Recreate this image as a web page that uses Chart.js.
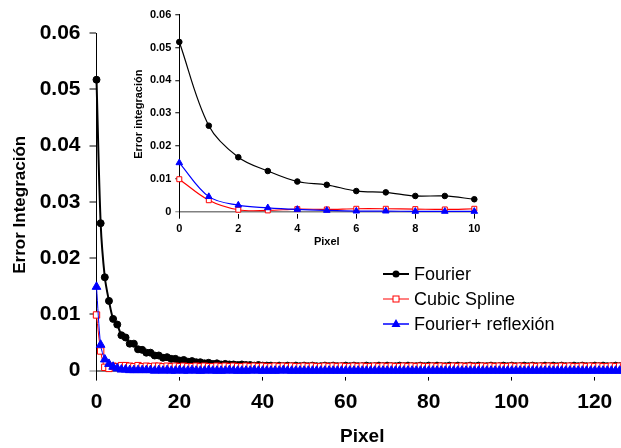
<!DOCTYPE html>
<html>
<head>
<meta charset="utf-8">
<script src="https://cdn.jsdelivr.net/npm/chart.js@4.4.1/dist/chart.umd.min.js"></script>
<style>
html,body{margin:0;padding:0;background:#fff;overflow:hidden;}
#wrap{position:relative;width:621px;height:448px;overflow:hidden;}
#main{position:absolute;left:0;top:0;}
#inset{position:absolute;left:120px;top:0;}
</style>
</head>
<body>
<div id="wrap">
<canvas id="main" width="634" height="448" style="width:634px;height:448px"></canvas>
<canvas id="inset" width="370" height="250" style="width:370px;height:250px"></canvas>
</div>
<script>
const FONT = '"Liberation Sans", Arial, sans-serif';

// series names (legend order)
const seriesNames = ["Fourier", "Cubic Spline", "Fourier+ reflexión"];

// error per pixel (pixel 0..127)
const fourier = [
0.0517,0.0262,0.0166,0.0124,0.0092,0.0082,0.0063,0.0059,0.0048,0.0048,
0.0038,0.0037,0.0032,0.0032,0.0027,0.0027,0.0023,0.0024,0.0021,0.0021,
0.0018,0.0019,0.0016,0.0017,0.0015,0.0015,0.0013,0.0014,0.0012,0.0013,
0.0011,0.0012,0.0011,0.0011,0.0010,0.0011,0.0010,0.0010,0.0009,0.0010,
0.0009,0.0009,0.0009,0.0008,0.0009,0.0008,0.0009,0.0008,0.0009,0.0008,
0.0009,0.0008,0.0009,0.0008,0.0008,0.0009,0.0008,0.0009,0.0008,0.0008,
0.0009,0.0008,0.0009,0.0008,0.0008,0.0009,0.0008,0.0008,0.0009,0.0008,
0.0009,0.0008,0.0008,0.0009,0.0008,0.0009,0.0008,0.0008,0.0009,0.0008,
0.0009,0.0008,0.0009,0.0008,0.0008,0.0009,0.0008,0.0009,0.0008,0.0008,
0.0009,0.0008,0.0009,0.0008,0.0008,0.0009,0.0008,0.0008,0.0009,0.0008,
0.0009,0.0008,0.0008,0.0009,0.0008,0.0009,0.0008,0.0008,0.0009,0.0008,
0.0009,0.0008,0.0009,0.0008,0.0008,0.0009,0.0008,0.0009,0.0008,0.0008,
0.0009,0.0008,0.0009,0.0008,0.0008,0.0009,0.0008,0.0009
];
const cubic = [
0.0099,0.0035,0.0006,0.0004,0.0008,0.0007,0.0009,0.0009,0.0008,0.0007,
0.0009,0.0007,0.0008,0.0007,0.0008,0.0008,0.0007,0.0008,0.0007,0.0008,
0.0007,0.0008,0.0007,0.0007,0.0008,0.0007,0.0008,0.0007,0.0007,0.0008,
0.0007,0.0008,0.0007,0.0008,0.0007,0.0007,0.0008,0.0007,0.0008,0.0007,
0.0008,0.0007,0.0007,0.0008,0.0007,0.0008,0.0007,0.0008,0.0007,0.0007,
0.0008,0.0007,0.0008,0.0007,0.0007,0.0008,0.0007,0.0008,0.0007,0.0008,
0.0007,0.0007,0.0008,0.0007,0.0008,0.0007,0.0007,0.0008,0.0007,0.0008,
0.0007,0.0008,0.0007,0.0007,0.0008,0.0007,0.0008,0.0007,0.0008,0.0007,
0.0007,0.0008,0.0007,0.0008,0.0007,0.0007,0.0008,0.0007,0.0008,0.0007,
0.0008,0.0007,0.0007,0.0008,0.0007,0.0008,0.0007,0.0008,0.0007,0.0007,
0.0008,0.0007,0.0008,0.0007,0.0007,0.0008,0.0007,0.0008,0.0007,0.0008,
0.0007,0.0007,0.0008,0.0007,0.0008,0.0007,0.0007,0.0008,0.0007,0.0008,
0.0007,0.0008,0.0007,0.0007,0.0008,0.0007,0.0008,0.0007
];
const reflexion = [
0.0149,0.0046,0.0020,0.0012,0.0007,0.0004,0.0002,0.0002,0.0001,0.0001,
0.0001,0.0001,0.0001,0.0001,0.0000,0.0001,0.0000,0.0001,0.0000,0.0000,
0.0001,0.0000,0.0000,0.0001,0.0000,0.0000,0.0000,0.0001,0.0000,0.0000,
0.0000,0.0000,0.0001,0.0000,0.0000,0.0000,0.0000,0.0000,0.0001,0.0000,
0.0000,0.0000,0.0000,0.0000,0.0000,0.0001,0.0000,0.0000,0.0000,0.0000,
0.0000,0.0000,0.0000,0.0000,0.0000,0.0000,0.0000,0.0000,0.0000,0.0000,
0.0000,0.0000,0.0000,0.0000,0.0000,0.0000,0.0000,0.0000,0.0000,0.0000,
0.0000,0.0000,0.0000,0.0000,0.0000,0.0000,0.0000,0.0000,0.0000,0.0000,
0.0000,0.0000,0.0000,0.0000,0.0000,0.0000,0.0000,0.0000,0.0000,0.0000,
0.0000,0.0000,0.0000,0.0000,0.0000,0.0000,0.0000,0.0000,0.0000,0.0000,
0.0000,0.0000,0.0000,0.0000,0.0000,0.0000,0.0000,0.0000,0.0000,0.0000,
0.0000,0.0000,0.0000,0.0000,0.0000,0.0000,0.0000,0.0000,0.0000,0.0000,
0.0000,0.0000,0.0000,0.0000,0.0000,0.0000,0.0000,0.0000
];

// tick values
const xTicksMain = [0, 20, 40, 60, 80, 100, 120];
const yTicksMain = [0, 0.01, 0.02, 0.03, 0.04, 0.05, 0.06];
const yLabelsMain = ["0", "0.01", "0.02", "0.03", "0.04", "0.05", "0.06"];
const xTicksInset = [0, 2, 4, 6, 8, 10];
const insetCount = 11; // inset shows pixels 0..10

function pts(arr, n){
    let out = [];
    for (let i = 0; i < n; i++) out.push({x: i, y: arr[i]});
    return out;
}

function zeroGray(c){
    return (c.tick && c.tick.value === 0) ? '#808080' : 'rgba(0,0,0,0)';
}

// legend drawn inside the main plot
const boxLegend = {
    id: 'boxLegend',
    afterDraw(chart){
        const ctx = chart.ctx;
        ctx.save();
        ctx.font = '18px ' + FONT;
        ctx.textBaseline = 'middle';
        const colors = ['#000000', '#ff0000', '#0000ff'];
        const widths = [2, 1, 1.5];
        for (let i = 0; i < seriesNames.length; i++) {
            let y = 274 + i * 25;
            let x1 = 383, x2 = 409, mx = 396;
            ctx.strokeStyle = colors[i];
            ctx.lineWidth = widths[i];
            ctx.beginPath();
            ctx.moveTo(x1, y);
            ctx.lineTo(x2, y);
            ctx.stroke();
            ctx.lineWidth = 1;
            if (i === 0) {
                ctx.fillStyle = '#000';
                ctx.beginPath();
                ctx.arc(mx, y, 3.5, 0, Math.PI * 2);
                ctx.fill();
            } else if (i === 1) {
                ctx.fillStyle = '#fff';
                ctx.fillRect(mx - 3, y - 3, 6, 6);
                ctx.strokeRect(mx - 3, y - 3, 6, 6);
            } else {
                ctx.fillStyle = '#0000ff';
                ctx.beginPath();
                ctx.moveTo(mx, y - 5);
                ctx.lineTo(mx + 4.5, y + 3);
                ctx.lineTo(mx - 4.5, y + 3);
                ctx.closePath();
                ctx.fill();
            }
            ctx.fillStyle = '#000';
            ctx.fillText(seriesNames[i], 414, y + 1);
        }
        ctx.restore();
    }
};

Chart.defaults.font.family = FONT;
Chart.defaults.color = '#000';

new Chart(document.getElementById('main'), {
    type: 'line',
    data: {
        datasets: [
            {
                label: seriesNames[0], data: pts(fourier, fourier.length),
                borderColor: '#000', borderWidth: 2, tension: 0.3,
                pointStyle: 'circle', pointRadius: 3.5,
                pointBackgroundColor: '#000', pointBorderColor: '#000', pointBorderWidth: 1,
                order: 3, clip: false
            },
            {
                label: seriesNames[1], data: pts(cubic, cubic.length),
                borderColor: '#ff0000', borderWidth: 1, tension: 0.3,
                pointStyle: 'rect', pointRadius: 4.5,
                pointBackgroundColor: '#fff', pointBorderColor: '#ff0000', pointBorderWidth: 1,
                order: 2, clip: false
            },
            {
                label: seriesNames[2], data: pts(reflexion, reflexion.length),
                borderColor: '#0000ff', borderWidth: 1, tension: 0.3,
                pointStyle: 'triangle', pointRadius: 5,
                pointBackgroundColor: '#0000ff', pointBorderColor: '#0000ff', pointBorderWidth: 1,
                order: 1, clip: false
            }
        ]
    },
    options: {
        responsive: false, animation: false, devicePixelRatio: 1,
        layout: {padding: {top: 33, right: 0, left: 0, bottom: 0}},
        plugins: {legend: {display: false}, tooltip: {enabled: false}},
        scales: {
            x: {
                type: 'linear', min: 0, max: 128,
                afterBuildTicks: s => { s.ticks = xTicksMain.map(v => ({value: v})); },
                afterFit: s => { s.height = 71.4; },
                border: {display: false},
                grid: {drawOnChartArea: false, tickLength: 4, color: '#000'},
                ticks: {font: {size: 21, weight: 'bold'}, padding: 9, maxRotation: 0, autoSkip: false},
                title: {display: true, text: 'Pixel', font: {size: 19, weight: 'bold'}, padding: {top: 0, bottom: 0}}
            },
            y: {
                min: -0.00105, max: 0.06,
                afterBuildTicks: s => { s.ticks = yTicksMain.map(v => ({value: v})); },
                afterFit: s => { s.width = 96.5; },
                border: {display: true, color: '#000', width: 1},
                grid: {
                    drawOnChartArea: true, tickLength: 7, color: zeroGray, lineWidth: 2,
                    tickColor: c => (c.tick && c.tick.value === 0) ? '#808080' : '#000',
                    tickWidth: 1
                },
                ticks: {font: {size: 21, weight: 'bold'}, padding: 9, callback: (v, i) => yLabelsMain[i]},
                title: {display: true, text: 'Error Integración', font: {size: 17, weight: 'bold'}, padding: {top: 10.5, bottom: 0}}
            }
        }
    },
    plugins: [boxLegend]
});

new Chart(document.getElementById('inset'), {
    type: 'line',
    data: {
        datasets: [
            {
                label: seriesNames[0], data: pts(fourier, insetCount),
                borderColor: '#000', borderWidth: 1.2, tension: 0.35,
                pointStyle: 'circle', pointRadius: 2.8,
                pointBackgroundColor: '#000', pointBorderColor: '#000', pointBorderWidth: 1,
                order: 3, clip: false
            },
            {
                label: seriesNames[1], data: pts(cubic, insetCount),
                borderColor: '#ff0000', borderWidth: 1.2, tension: 0.35,
                pointStyle: 'rect', pointRadius: 3.5,
                pointBackgroundColor: '#fff', pointBorderColor: '#ff0000', pointBorderWidth: 1,
                order: 2, clip: false
            },
            {
                label: seriesNames[2], data: pts(reflexion, insetCount),
                borderColor: '#0000ff', borderWidth: 1.2, tension: 0.35,
                pointStyle: 'triangle', pointRadius: 3.8,
                pointBackgroundColor: '#0000ff', pointBorderColor: '#0000ff', pointBorderWidth: 1,
                order: 1, clip: false
            }
        ]
    },
    options: {
        responsive: false, animation: false, devicePixelRatio: 1,
        layout: {padding: {top: 14.7, right: 15.7, left: 0, bottom: 0}},
        plugins: {legend: {display: false}, tooltip: {enabled: false}},
        scales: {
            x: {
                type: 'linear', min: 0, max: 10,
                afterBuildTicks: s => { s.ticks = xTicksInset.map(v => ({value: v})); },
                afterFit: s => { s.height = 36.3; },
                border: {display: false},
                grid: {drawOnChartArea: false, tickLength: 5, color: '#000'},
                ticks: {font: {size: 11, weight: 'bold'}, padding: 4, maxRotation: 0, autoSkip: false},
                title: {display: true, text: 'Pixel', font: {size: 11, weight: 'bold'}, padding: {top: 0, bottom: 1.4}}
            },
            y: {
                min: -0.0006, max: 0.06,
                afterBuildTicks: s => { s.ticks = yTicksMain.map(v => ({value: v})); },
                afterFit: s => { s.width = 59.3; },
                border: {display: true, color: '#000', width: 1},
                grid: {
                    drawOnChartArea: true, tickLength: 4, color: zeroGray, lineWidth: 1.5,
                    tickColor: c => (c.tick && c.tick.value === 0) ? '#808080' : '#000',
                    tickWidth: 1
                },
                ticks: {font: {size: 11, weight: 'bold'}, padding: 4, callback: (v, i) => yLabelsMain[i]},
                title: {display: true, text: 'Error integración', font: {size: 11, weight: 'bold'}, padding: {top: 12.7, bottom: 0}}
            }
        }
    }
});
</script>
</body>
</html>
